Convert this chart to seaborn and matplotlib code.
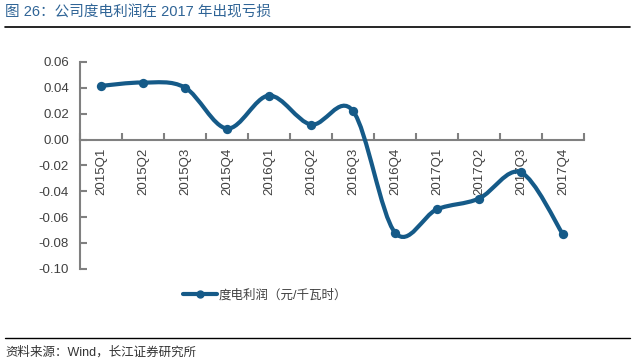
import matplotlib
matplotlib.use("Agg")
import matplotlib.pyplot as plt
from matplotlib.path import Path
from matplotlib.patches import PathPatch
from matplotlib.lines import Line2D
import seaborn as sns
import pandas as pd
import numpy as np

quarters = ["2015Q1", "2015Q2", "2015Q3", "2015Q4", "2016Q1", "2016Q2",
            "2016Q3", "2016Q4", "2017Q1", "2017Q2", "2017Q3", "2017Q4"]
profit = [0.0415, 0.0441, 0.0402, 0.0085, 0.0340, 0.0116,
          0.0221, -0.0720, -0.0540, -0.0457, -0.0255, -0.0735]
series_name = "度电利润（元/千瓦时）"
title = "图 26：公司度电利润在 2017 年出现亏损"
source = "资料来源：Wind，长江证券研究所"

line_color = "#155a88"
text_color = "#404040"
axis_color = "#808080"

sns.set_theme(style="white")
plt.rcParams["font.family"] = ["Liberation Sans", "Noto Sans CJK SC", "DejaVu Sans"]

df = pd.DataFrame({"quarter": quarters, "profit": profit})
df["pos"] = np.arange(len(df))

fig = plt.figure(figsize=(6.32, 3.63), dpi=100)
ax = fig.add_axes([80 / 632, 1 - 268.7 / 363, 504 / 632, (268.7 - 62) / 363])


def smooth_path(xs, ys):
    # cubic bezier through every point (Catmull-Rom style, like Excel smoothing)
    pts = np.column_stack([xs, ys]).astype(float)
    ext = np.vstack([pts[0], pts, pts[-1]])
    verts = [pts[0]]
    codes = [Path.MOVETO]
    for i in range(len(pts) - 1):
        p0, p1, p2, p3 = ext[i], ext[i + 1], ext[i + 2], ext[i + 3]
        verts += [p1 + (p2 - p0) / 6, p2 - (p3 - p1) / 6, p2]
        codes += [Path.CURVE4] * 3
    return Path(verts, codes)


ax.add_patch(PathPatch(smooth_path(df["pos"], df["profit"]), facecolor="none",
                       edgecolor=line_color, lw=3.0, capstyle="round", zorder=3))
sns.scatterplot(data=df, x="pos", y="profit", ax=ax, color=line_color, s=45,
                edgecolor=line_color, linewidth=0, zorder=4, legend=False)

ax.set_xlim(-0.5, len(quarters) - 0.5)
ax.set_ylim(-0.10, 0.06)
yt = np.arange(-0.10, 0.061, 0.02)
ax.set_yticks(yt)
ax.set_yticklabels([f"{v:.2f}" for v in yt])
ax.set_xticks(df["pos"])
ax.set_xticklabels(quarters)
ax.set_xticks(np.arange(-0.5, len(quarters)), minor=True)
ax.set_xlabel("")
ax.set_ylabel("")

for s in ["top", "right"]:
    ax.spines[s].set_visible(False)
ax.spines["bottom"].set_position(("data", 0))
for s in ["left", "bottom"]:
    ax.spines[s].set_color(axis_color)
    ax.spines[s].set_linewidth(1.5)

ax.tick_params(axis="y", direction="in", length=5, width=1.5, color=axis_color,
               labelsize=9.5, labelcolor=text_color, pad=8, left=True)
ax.tick_params(axis="x", which="major", length=0, labelsize=9.5, labelcolor=text_color,
               pad=6, labelrotation=90)
ax.tick_params(axis="x", which="minor", direction="in", length=5, width=1.5,
               color=axis_color, bottom=True)
for lbl in ax.get_xticklabels():
    lbl.set_va("top")

handle = Line2D([], [], color=line_color, lw=3, marker="o", markersize=5)
fig.legend([handle], [series_name], loc="center", bbox_to_anchor=(0.42, 1 - 295 / 363),
           frameon=False, fontsize=9, handlelength=2.7, handletextpad=0.15,
           labelcolor=text_color)

fig.text(5 / 632, 1 - 13 / 363, title, fontsize=10.5, color="#2f6496", va="center", ha="left")
fig.add_artist(Line2D([5 / 632, 630 / 632], [1 - 27 / 363] * 2, color="black", lw=1.2))
fig.add_artist(Line2D([5 / 632, 630 / 632], [1 - 338 / 363] * 2, color="black", lw=1.0))
fig.text(5 / 632, 1 - 352 / 363, source, fontsize=9, color="#333333", va="center", ha="left")

fig.savefig("out.png", dpi=100)
